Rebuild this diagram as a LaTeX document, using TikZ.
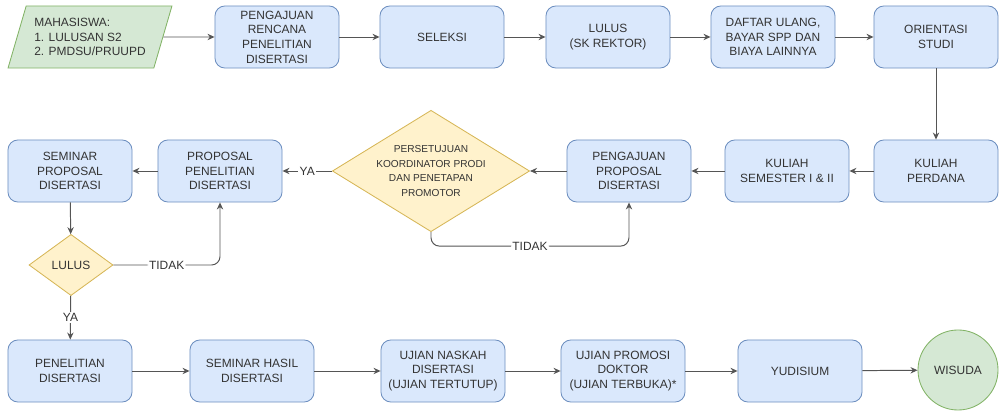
\documentclass[tikz,border=0pt]{standalone}
\usepackage{fontspec}
\setmainfont{Liberation Sans}
\usetikzlibrary{shapes.geometric,arrows.meta}
\definecolor{boxfill}{HTML}{DAE8FC}
\definecolor{boxline}{HTML}{6C8EBF}
\definecolor{startfill}{HTML}{D5E8D4}
\definecolor{startline}{HTML}{82B366}
\definecolor{askfill}{HTML}{FFF2CC}
\definecolor{askline}{HTML}{D6B656}
\definecolor{ink}{HTML}{333333}
\definecolor{wire}{HTML}{555555}
\begin{document}
\begin{tikzpicture}[x=0.025cm,y=-0.025cm,
    font=\fontsize{8.5}{10.4}\selectfont,text=ink,
    proc/.style={draw=boxline,fill=boxfill,line width=0.6pt,rounded corners=7pt,
      minimum width=3.1cm,minimum height=1.55cm,align=center,inner sep=1pt},
    ask/.style={diamond,draw=askline,fill=askfill,line width=0.6pt,align=center},
    arr/.style={draw=wire,line width=0.7pt,-{Stealth[length=5pt,width=4.5pt]}},
    lbl/.style={fill=white,inner sep=1pt}]
    \useasboundingbox (0,0) rectangle (1000,411);
    \node[trapezium,trapezium left angle=70,trapezium right angle=110,trapezium stretches=true,
      draw=startline,fill=startfill,line width=0.6pt,minimum width=4.1cm,minimum height=1.55cm,
      align=left] (in) at (90,37) {MAHASISWA:\\1. LULUSAN S2\\2. PMDSU/PRUUPD};
    \node[proc] (rr) at (277,37) {PENGAJUAN\\RENCANA\\PENELITIAN\\DISERTASI};
    \node[proc] (sl) at (442,37) {SELEKSI};
    \node[proc] (ll) at (608,37) {LULUS\\(SK REKTOR)};
    \node[proc] (du) at (773,37) {DAFTAR ULANG,\\BAYAR SPP DAN\\BIAYA LAINNYA};
    \node[proc] (os) at (936,37) {ORIENTASI\\STUDI};
    \node[proc] (sp) at (70,171) {SEMINAR\\PROPOSAL\\DISERTASI};
    \node[proc] (pr) at (220,171) {PROPOSAL\\PENELITIAN\\DISERTASI};
    \node[ask,font=\fontsize{7.2}{10.5}\selectfont,inner xsep=-10pt,inner ysep=-4pt,
      minimum width=4.93cm,minimum height=2.37cm] (dp) at (431,171)
      {PERSETUJUAN\\KOORDINATOR PRODI\\DAN PENETAPAN\\PROMOTOR};
    \node[proc] (pp) at (629,171) {PENGAJUAN\\PROPOSAL\\DISERTASI};
    \node[proc] (ks) at (787,171) {KULIAH\\SEMESTER I \& II};
    \node[proc] (kp) at (936,171) {KULIAH\\PERDANA};
    \node[ask,inner sep=0pt,minimum width=2.1cm,minimum height=1.53cm] (lu) at (71,265) {LULUS};
    \node[proc] (pd) at (70,371) {PENELITIAN\\DISERTASI};
    \node[proc] (sh) at (252,371) {SEMINAR HASIL\\DISERTASI};
    \node[proc] (un) at (443,371) {UJIAN NASKAH\\DISERTASI\\(UJIAN TERTUTUP)};
    \node[proc] (up) at (623,371) {UJIAN PROMOSI\\DOKTOR\\(UJIAN TERBUKA)*};
    \node[proc] (yd) at (800,371) {YUDISIUM};
    \node[circle,draw=startline,fill=startfill,line width=0.6pt,minimum size=2cm] (ws) at (958,370) {WISUDA};
    \draw[arr] (in) -- (rr);
    \draw[arr] (rr) -- (sl);
    \draw[arr] (sl) -- (ll);
    \draw[arr] (ll) -- (du);
    \draw[arr] (du) -- (os);
    \draw[arr] (os) -- (kp);
    \draw[arr] (kp) -- (ks);
    \draw[arr] (ks) -- (pp);
    \draw[arr] (pp) -- (dp);
    \draw[arr] (dp) -- node[lbl] {YA} (pr);
    \draw[arr,rounded corners=6pt] (dp.south) -- ++(0,14) -| node[lbl,pos=0.25] {TIDAK} (pp.south);
    \draw[arr] (pr) -- (sp);
    \draw[arr] (sp) -- (lu);
    \draw[arr,rounded corners=6pt] (lu.east) -| node[lbl,pos=0.25] {TIDAK} (pr.south);
    \draw[arr] (lu) -- node[lbl] {YA} (pd);
    \draw[arr] (pd) -- (sh);
    \draw[arr] (sh) -- (un);
    \draw[arr] (un) -- (up);
    \draw[arr] (up) -- (yd);
    \draw[arr] (yd) -- (ws);
\end{tikzpicture}
\end{document}
